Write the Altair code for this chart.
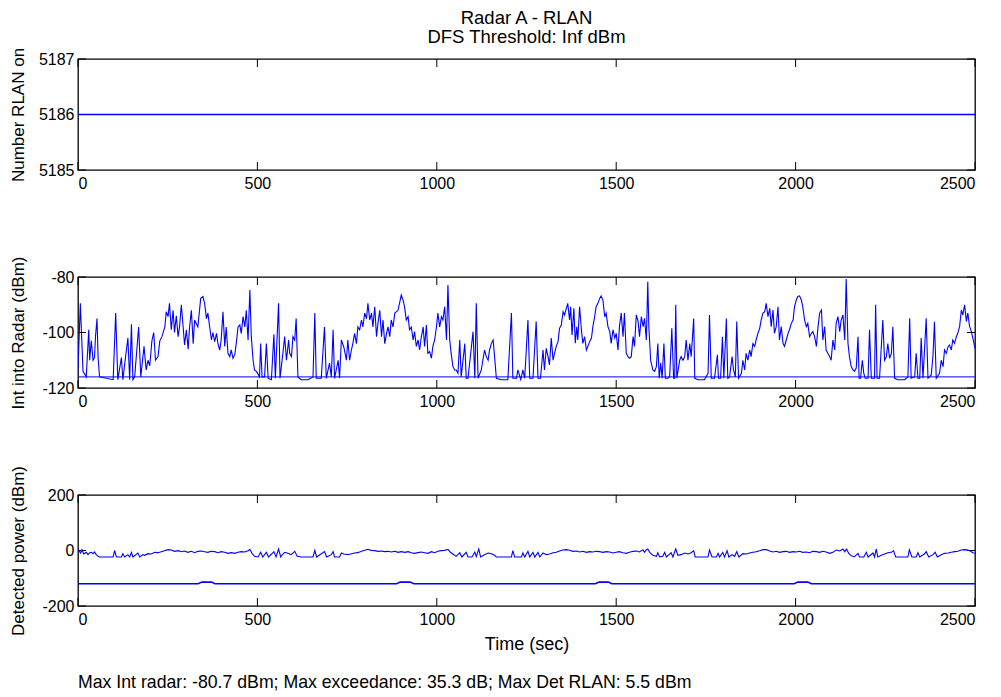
import altair as alt
import pandas as pd

FONT = "Liberation Sans"
BLUE = "#0000ff"
W, H = 897, 111
TICK = 8

TITLE = ["Radar A - RLAN", "DFS Threshold: Inf dBm"]
FOOTER = "Max Int radar: -80.7 dBm; Max exceedance: 35.3 dB; Max Det RLAN: 5.5 dBm"

x_ticks = [0, 500, 1000, 1500, 2000, 2500]

# ---- panel 1: number of RLANs on
rlan_t = [0, 2500]
rlan_n = [5186, 5186]
rlan_ticks = [5185, 5186, 5187]

# ---- panel 2: interference into radar (dBm)
int_t = [
    0, 6.5, 14, 23, 30, 32.5, 37, 42, 46, 49,
    53, 56, 60, 98, 105, 111, 121, 125, 139, 144,
    149, 153, 158, 169, 175, 184, 190, 195, 200, 206,
    211, 216, 223, 228, 234, 242, 246, 251, 255, 260,
    265, 269, 274, 279, 283, 288, 293, 297, 302, 307,
    311, 316, 321, 325, 334, 342, 348, 353, 358, 362,
    367, 372, 376, 381, 386, 390, 395, 399, 404, 409,
    413, 418, 423, 427, 432, 437, 441, 446, 451, 455,
    460, 465, 469, 474, 479, 483, 488, 492, 497, 502,
    506, 509, 513, 520, 525, 530, 539, 546, 550, 559,
    563, 571, 576, 581, 587, 590, 595, 599, 604, 608,
    613, 622, 641, 655, 660, 664, 678, 687, 692, 701,
    706, 711, 715, 725, 729, 734, 741, 748, 752, 757,
    762, 766, 771, 776, 780, 785, 790, 794, 799, 804,
    808, 813, 818, 822, 827, 832, 836, 841, 846, 850,
    855, 860, 864, 869, 873, 878, 883, 892, 901, 906,
    910, 915, 920, 924, 929, 934, 938, 943, 948, 952,
    957, 962, 966, 971, 975, 980, 985, 989, 994, 999,
    1003, 1008, 1013, 1017, 1022, 1027, 1031, 1036, 1040, 1045,
    1050, 1054, 1059, 1064, 1068, 1078, 1082, 1087, 1101, 1106,
    1110, 1115, 1124, 1133, 1138, 1143, 1147, 1152, 1157, 1161,
    1166, 1180, 1198, 1208, 1212, 1222, 1226, 1234, 1240, 1245,
    1254, 1259, 1268, 1277, 1282, 1289, 1296, 1300, 1305, 1310,
    1314, 1319, 1324, 1328, 1333, 1338, 1342, 1347, 1352, 1356,
    1361, 1365, 1370, 1373, 1377, 1382, 1386, 1390, 1393, 1398,
    1403, 1407, 1412, 1417, 1421, 1426, 1431, 1435, 1440, 1444,
    1449, 1454, 1458, 1463, 1468, 1472, 1477, 1482, 1486, 1491,
    1496, 1500, 1505, 1509, 1514, 1519, 1523, 1528, 1533, 1537,
    1542, 1547, 1551, 1556, 1561, 1565, 1570, 1575, 1579, 1584,
    1588, 1591, 1596, 1602, 1607, 1612, 1616, 1620, 1624, 1628,
    1633, 1637, 1644, 1649, 1655, 1660, 1663, 1666, 1669, 1677,
    1681, 1686, 1691, 1695, 1700, 1705, 1709, 1716, 1719, 1728,
    1746, 1756, 1760, 1765, 1774, 1782, 1785, 1791, 1796, 1800,
    1807, 1811, 1816, 1823, 1827, 1832, 1836, 1841, 1849, 1853,
    1858, 1862, 1867, 1872, 1876, 1881, 1886, 1890, 1895, 1900,
    1904, 1909, 1914, 1918, 1923, 1928, 1932, 1937, 1941, 1946,
    1951, 1955, 1960, 1965, 1969, 1974, 1979, 1983, 1988, 1993,
    1997, 2002, 2006, 2011, 2016, 2020, 2025, 2030, 2034, 2039,
    2044, 2048, 2053, 2058, 2062, 2067, 2072, 2076, 2081, 2085,
    2090, 2095, 2099, 2104, 2109, 2113, 2118, 2123, 2127, 2132,
    2137, 2141, 2146, 2150, 2155, 2160, 2164, 2169, 2174, 2177,
    2181, 2186, 2190, 2194, 2202, 2206, 2211, 2220, 2223, 2227,
    2234, 2243, 2248, 2253, 2257, 2262, 2267, 2271, 2276, 2285,
    2304, 2313, 2318, 2322, 2332, 2336, 2341, 2346, 2350, 2355,
    2364, 2369, 2378, 2383, 2387, 2392, 2401, 2406, 2411, 2415,
    2420, 2425, 2429, 2434, 2438, 2443, 2448, 2452, 2457, 2462,
    2466, 2471, 2476, 2480, 2485, 2490, 2494, 2500,
]
int_v = [
    -113.5, -89.5, -114, -116, -99, -110, -103, -110, -109, -101,
    -95, -109, -116, -117, -93, -117, -109, -117, -102, -117,
    -97, -117, -116, -98, -116, -105, -113.5, -110, -112, -103,
    -100, -110, -108.7, -103, -101.5, -98, -92.5, -94.3, -89.5, -99,
    -92, -100, -94, -101.5, -98, -90, -98, -104.5, -99, -106,
    -98, -92, -104, -95.5, -98, -87.7, -87, -89.5, -95, -93,
    -98, -102.7, -100, -103.3, -100.3, -104, -106.3, -102.7, -92.5, -105,
    -98, -107.5, -108.7, -106.3, -109.3, -108, -104, -98, -97.3, -100.3,
    -94.3, -98, -92, -102.7, -84.7, -101.5, -110, -113.5, -114, -115,
    -116, -104, -116, -116, -104, -116.5, -117, -100.6, -116.5, -89.5,
    -116.5, -107.5, -101.5, -110, -102.7, -107.5, -108.7, -101.5, -102.7, -95,
    -116, -117, -117, -116, -93, -116.5, -116.5, -98, -116.5, -111,
    -116, -99, -116.5, -110, -116.5, -102.7, -105.3, -110, -102.7, -110,
    -106.3, -104, -100.3, -104, -98, -99, -95.5, -98, -93, -95,
    -89.5, -95.5, -93, -98, -90.7, -101.5, -96.7, -92, -101.5, -95.5,
    -104, -100.3, -98, -101.5, -95.5, -98, -93, -92, -86.5, -88.3,
    -90.7, -95.5, -94.3, -99, -98, -102.7, -99.7, -105, -102.7, -106.3,
    -101.5, -98, -105, -97.3, -107.5, -106.9, -109.3, -105, -102.7, -98,
    -93, -98, -94.3, -95.5, -90.7, -102.7, -82.9, -102.7, -107.5, -112.3,
    -113.5, -113.5, -114.7, -102.7, -116, -104, -116.5, -116.5, -99.7, -116.5,
    -89.5, -116.5, -113.5, -106.3, -108.7, -110, -106.3, -104, -102.7, -108.7,
    -116.5, -117, -117, -93, -116.5, -116.5, -113.5, -117, -113.5, -116.5,
    -95.5, -116.5, -116.5, -96, -116.5, -116.5, -106.3, -113.5, -105.7, -108.7,
    -111.7, -102, -110, -107.5, -105, -103.3, -98.5, -97.3, -92.5, -93.7,
    -91.3, -89.5, -95.5, -90.7, -100.9, -91.3, -103.9, -97.9, -102.7, -90.7,
    -99, -103.9, -101.5, -106.3, -105, -103.3, -102, -97.9, -94.3, -90.7,
    -89.5, -87.7, -86.8, -88.3, -94.3, -93, -97.9, -99.7, -103.9, -99,
    -102, -100.3, -106.3, -97.9, -93, -101.5, -93, -107.5, -108.7, -109.3,
    -108.7, -101.5, -105, -93.7, -96, -101.5, -94.3, -97.9, -94.9, -102.7,
    -81.7, -97.9, -110, -113.5, -114, -112.3, -104, -116.5, -111, -116.5,
    -104, -116.5, -116.5, -116, -98.5, -116.5, -116.5, -90, -116.5, -110,
    -108.7, -110, -108.7, -102.7, -110, -104, -108.7, -95, -116.5, -117,
    -117, -114.7, -93.7, -116.5, -116.5, -108, -116.5, -116.5, -101.5, -116.5,
    -95, -116.5, -116, -108.7, -113.5, -116, -96, -116.5, -114.7, -110,
    -113.5, -107.5, -110, -106.3, -108.7, -104, -105, -102.7, -100.3, -98.5,
    -95.5, -93, -92.5, -89.5, -94.3, -91.3, -97.9, -91.9, -100.3, -97.9,
    -90.7, -102.7, -97.9, -103.9, -105, -102.7, -100.3, -99, -96.7, -95.5,
    -90.7, -88.3, -87, -86.8, -88.3, -90.7, -95.5, -97.9, -96.7, -101.5,
    -100.3, -99.7, -101.5, -105, -98.5, -93, -91.9, -102.7, -97.9, -106.3,
    -107.5, -108.7, -110, -102.7, -106.3, -96.7, -94.3, -99.7, -95.5, -93.7,
    -102.7, -80.7, -103.9, -108.7, -112.3, -113.5, -114, -112.8, -101.5, -116.5,
    -116.5, -110, -114.7, -116.5, -116.5, -99, -116.5, -116.5, -90, -116.5,
    -116.5, -95.5, -110, -108.7, -104, -109.3, -107.5, -97.9, -116.5, -117,
    -117, -116, -94.9, -116.5, -116, -107.5, -116.5, -116.5, -102, -116.5,
    -94.9, -116.5, -115.3, -108.1, -96.1, -116.5, -114.7, -110, -112.3, -106.3,
    -107.5, -105.1, -104.5, -106.3, -102.7, -103.9, -101.5, -100.3, -97.9, -91.9,
    -93.7, -90, -96, -93, -97.9, -99.7, -102, -105.7,
]
floor_t = [0, 2500]
floor_v = [-116, -116]
int_ticks = [-120, -100, -80]

# ---- panel 3: detected power (dBm)
det_t = [
    0, 7, 11, 16, 23, 28, 32, 37, 42, 46,
    51, 56, 60, 98, 102, 107, 121, 125, 130, 139,
    144, 149, 153, 167, 172, 181, 186, 195, 204, 214,
    223, 232, 241, 251, 260, 269, 279, 288, 297, 306,
    316, 325, 334, 344, 353, 362, 371, 381, 390, 399,
    409, 418, 427, 437, 446, 455, 464, 474, 479, 485,
    492, 502, 509, 515, 525, 531, 546, 552, 559, 565,
    571, 576, 585, 594, 604, 611, 622, 655, 660, 665,
    687, 693, 706, 711, 715, 729, 734, 741, 752, 762,
    771, 780, 790, 799, 808, 817, 827, 836, 845, 855,
    864, 873, 883, 892, 901, 911, 920, 929, 938, 948,
    957, 966, 976, 985, 994, 1003, 1013, 1022, 1031, 1038,
    1045, 1054, 1064, 1070, 1082, 1087, 1098, 1106, 1110, 1117,
    1122, 1133, 1143, 1152, 1161, 1166, 1208, 1212, 1217, 1236,
    1240, 1245, 1254, 1259, 1268, 1273, 1282, 1287, 1296, 1305,
    1314, 1324, 1333, 1342, 1352, 1361, 1370, 1379, 1389, 1398,
    1407, 1417, 1426, 1435, 1444, 1454, 1463, 1472, 1482, 1491,
    1500, 1509, 1519, 1528, 1537, 1547, 1556, 1565, 1570, 1575,
    1579, 1584, 1588, 1594, 1602, 1612, 1616, 1621, 1630, 1635,
    1640, 1653, 1658, 1666, 1672, 1681, 1691, 1700, 1709, 1716,
    1720, 1756, 1760, 1767, 1779, 1784, 1788, 1797, 1802, 1809,
    1814, 1823, 1830, 1836, 1842, 1853, 1862, 1872, 1881, 1890,
    1900, 1909, 1918, 1928, 1937, 1946, 1955, 1965, 1974, 1983,
    1993, 2002, 2011, 2020, 2030, 2039, 2048, 2058, 2067, 2076,
    2085, 2095, 2104, 2113, 2123, 2132, 2137, 2142, 2148, 2155,
    2164, 2174, 2178, 2190, 2197, 2202, 2216, 2220, 2225, 2229,
    2239, 2248, 2257, 2267, 2273, 2279, 2313, 2317, 2324, 2336,
    2341, 2346, 2359, 2364, 2371, 2383, 2389, 2395, 2406, 2415,
    2425, 2434, 2443, 2452, 2462, 2471, 2480, 2488, 2494, 2500,
]
det_v = [
    5.5, -9, 3, -12.6, -6.6, -15, -9, -6.6, -11.4, -5.4,
    -15, -21, -23.4, -23.4, 0.6, -23.4, -23.4, -11.4, -23.4, -15,
    -23.4, -6.6, -23.4, -9, -23.4, -15, -17.4, -11.4, -12.6, -6.6,
    -7.8, -4.2, -0.6, 3, 1.8, -3, -0.6, -4.2, -1.8, -6.6,
    -3, -7.8, -3, -1.8, -4.2, -6.6, -3, -4.2, -7.8, -4.2,
    -6.6, -10.2, -7.8, -10.2, -6.6, -4.2, -5.4, -0.6, 4.2, -10.2,
    -21, -23.4, -6.6, -23.4, -6.6, -23.4, -4.2, -23.4, 5.5, -23.4,
    -12.6, -6.6, -10.2, -15, -3, -21, -23.4, -23.4, 0.6, -23.4,
    -4.2, -23.4, -15, -4.2, -23.4, -23.4, -9, -12.6, -15, -11.4,
    -9, -7.8, -3, 0.6, 4.2, 0.6, -0.6, -3, -1.8, -4.2,
    -3, -5.4, -3, -6.6, -4.2, -6.6, -4.2, -7.8, -10.2, -7.8,
    -5.4, -7.8, -10.2, -4.2, -7.8, -3, -0.6, 0.6, 4.2, -6.6,
    -12.6, -21, -7.8, -23.4, -6.6, -23.4, -23.4, -5.4, -22.2, 5.5,
    -23.4, -15, -9, -11.4, -17.4, -23.4, -23.4, -0.6, -23.4, -23.4,
    -9, -23.4, -3, -23.4, -6.6, -23.4, -6.6, -23.4, -9, -15,
    -12.6, -7.8, -6.6, -1.8, 1.8, 3, 0.6, -3, -1.8, -5.4,
    -3, -6.6, -4.2, -5.4, -3, -4.2, -6.6, -4.2, -5.4, -9,
    -6.6, -4.2, -7.8, -10.2, -6.6, -3, -1.8, -5.4, -0.6, 1.8,
    -6.6, 3, 5.5, -7.8, -17.4, -21, -7.8, -23.4, -21, -6.6,
    -23.4, -7.8, -23.4, 5.5, -17.4, -15, -9, -12.6, -7.8, -0.6,
    -23.4, -23.4, 1.8, -23.4, -23.4, -10.2, -23.4, -6.6, -23.4, -0.6,
    -23.4, -15, -21, -4.2, -23.4, -11.4, -12.6, -9, -6.6, -4.2,
    -0.6, 3, 3, -1.8, -5.4, -3, -6.6, -4.2, -3, -6.6,
    -4.2, -5.4, -3, -6.6, -5.4, -7.8, -3, -4.2, -6.6, -3,
    -5.4, -10.2, -6.6, 1.8, -1.8, 5.5, -4.2, 5.5, -10.2, -18.6,
    -22.2, -10.2, -23.4, -23.4, -6.6, -23.4, -9, -23.4, 5.5, -23.4,
    -17.4, -12.6, -7.8, -6.6, -0.6, -23.4, -23.4, 2.4, -23.4, -23.4,
    -7.8, -23.4, -12.6, -4.2, -23.4, -15, -6.6, -23.4, -15, -10.2,
    -9, -6.6, -4.2, -3, 1.8, 3, 1.8, -3, -7.8, -10.2,
]
low_t = [0, 335, 345, 372, 382, 888, 898, 926, 936, 1442, 1452, 1478, 1488, 1996, 2006, 2034, 2044, 2500]
low_v = [-120, -120, -114, -114, -120, -120, -114, -114, -120, -120, -114, -114, -120, -120, -114, -114, -120, -120]
det_ticks = [-200, 0, 200]


def panel(series, ydom, yticks, ytitle, xtitle=None):
    xs = alt.Scale(domain=[0, 2500], nice=False, zero=False)
    ys = alt.Scale(domain=ydom, nice=False, zero=False)
    xkw = dict(values=x_ticks, labelExpr="'' + datum.value")
    if xtitle:
        xkw["title"] = xtitle
    else:
        xkw["title"] = None
    xaxis = alt.Axis(**xkw)
    yaxis = alt.Axis(values=yticks, labelExpr="'' + datum.value", title=ytitle,
                     titleX=-51, titleY=H / 2, titleAngle=270,
                     titleAlign="center", titleBaseline="bottom")
    X = alt.X("t:Q", scale=xs, axis=xaxis)
    Y = alt.Y("v:Q", scale=ys, axis=yaxis)

    xt = pd.DataFrame({"t": x_ticks})
    yt = pd.DataFrame({"v": yticks})
    layers = [
        alt.Chart(xt).mark_rule(color="black", strokeWidth=1).encode(
            x=X, y=alt.value(H), y2=alt.value(H - TICK)),
        alt.Chart(xt).mark_rule(color="black", strokeWidth=1).encode(
            x=X, y=alt.value(0), y2=alt.value(TICK)),
        alt.Chart(yt).mark_rule(color="black", strokeWidth=1).encode(
            y=Y, x=alt.value(0), x2=alt.value(TICK)),
        alt.Chart(yt).mark_rule(color="black", strokeWidth=1).encode(
            y=Y, x=alt.value(W), x2=alt.value(W - TICK)),
    ]
    for t, v, sw in series:
        df = pd.DataFrame({"t": t, "v": v})
        layers.append(
            alt.Chart(df).mark_line(color=BLUE, strokeWidth=sw, clip=True).encode(x=X, y=Y)
        )
    return alt.layer(*layers).properties(width=W, height=H)


p1 = panel([(rlan_t, rlan_n, 1.6)], [5185, 5187], rlan_ticks, "Number RLAN on").properties(
    title=alt.Title(TITLE, frame="group", anchor="middle", font=FONT, fontSize=18.5,
                    fontWeight="normal", color="black", lineHeight=19, offset=1)
)
p2 = panel([(floor_t, floor_v, 1), (int_t, int_v, 1.1)], [-120, -80], int_ticks,
           "Int into Radar (dBm)")
p3 = panel([(low_t, low_v, 1.6), (det_t, det_v, 1.1)], [-200, 200], det_ticks,
           "Detected power (dBm)", xtitle="Time (sec)").properties(
    title=alt.Title(FOOTER, orient="bottom", anchor="start", frame="group", font=FONT,
                    fontSize=17.7, fontWeight="normal", color="black", offset=21)
)

chart = (
    alt.vconcat(p1, p2, p3, spacing=107, bounds="flush")
    .properties(padding={"left": 0, "top": 0, "right": 5, "bottom": 5})
    .configure_view(stroke="black", strokeWidth=1.3)
    .configure_axis(labelFont=FONT, labelFontSize=16, labelColor="black",
                    titleFont=FONT, titleFontSize=17, titleFontWeight="normal",
                    titleColor="black", ticks=False, tickSize=0, domain=False, grid=False,
                    labelPadding=4)
    .configure_axisX(labelPadding=5, titleFontSize=18, titlePadding=8)
)

chart.save("out.html", embed_options={"renderer": "svg", "actions": False})
